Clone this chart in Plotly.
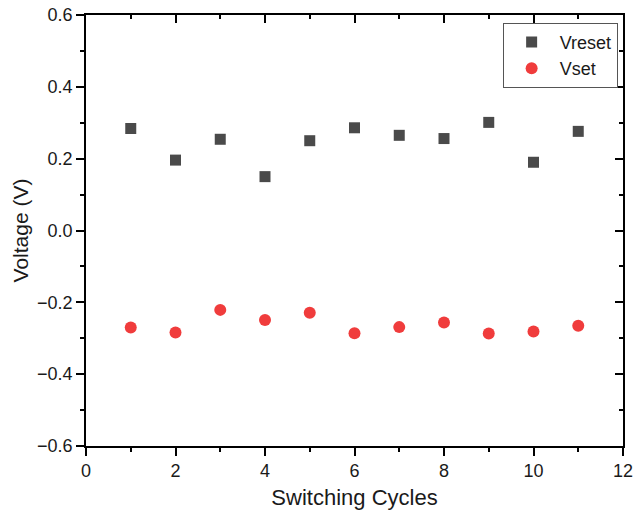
import plotly.graph_objects as go

cycles = [1, 2, 3, 4, 5, 6, 7, 8, 9, 10, 11]
vreset = [0.284, 0.196, 0.254, 0.150, 0.250, 0.286, 0.265, 0.256, 0.301, 0.190, 0.276]
vset = [-0.270, -0.284, -0.221, -0.249, -0.229, -0.286, -0.269, -0.256, -0.287, -0.281, -0.265]

fnt = "Liberation Sans, Arial, sans-serif"
tc = "#1a1a1a"

fig = go.Figure()
fig.add_trace(go.Scatter(x=cycles, y=vreset, mode="markers", name="Vreset",
                         marker=dict(symbol="square", size=11, color="#4a4a4a")))
fig.add_trace(go.Scatter(x=cycles, y=vset, mode="markers", name="Vset",
                         marker=dict(symbol="circle", size=12, color="#f03c3c")))
# invisible trace to activate the mirrored axes
fig.add_trace(go.Scatter(x=[0], y=[0], xaxis="x2", yaxis="y2", mode="markers",
                         marker=dict(opacity=0), showlegend=False, hoverinfo="skip"))


def ax(direction, rng, dt, mdt, **kw):
    d = dict(range=rng, tickmode="linear", tick0=rng[0], dtick=dt,
             showgrid=False, zeroline=False, showline=True, linecolor="black", linewidth=1.5,
             ticks=direction, tickcolor="black", tickwidth=1.5, ticklen=8,
             minor=dict(dtick=mdt, tick0=rng[0], ticks=direction, ticklen=4, tickcolor="black", tickwidth=1.5))
    d.update(kw)
    return d


fig.update_layout(
    width=634, height=521,
    margin=dict(l=86, r=11, t=15, b=75, autoexpand=False),
    plot_bgcolor="white", paper_bgcolor="white",
    font=dict(family=fnt, color=tc),
    xaxis=ax("outside", [0, 12], 2, 1, tickfont=dict(family=fnt, size=18, color=tc),
             title=dict(text="Switching Cycles", font=dict(family=fnt, size=22, color=tc), standoff=9)),
    yaxis=ax("outside", [-0.6, 0.6], 0.2, 0.1, tickformat=".1f", tickfont=dict(family=fnt, size=18, color=tc),
             title=dict(text="Voltage (V)", font=dict(family=fnt, size=21, color=tc), standoff=3)),
    xaxis2=ax("inside", [0, 12], 2, 1, overlaying="x", side="top", showticklabels=False),
    yaxis2=ax("inside", [-0.6, 0.6], 0.2, 0.1, overlaying="y", side="right", showticklabels=False),
    legend=dict(x=0.99, y=0.982, xanchor="right", yanchor="top", bgcolor="white",
                bordercolor="#555", borderwidth=1, itemwidth=46,
                font=dict(family=fnt, size=18, color=tc)),
    showlegend=True,
)

fig.write_html("out.html")
